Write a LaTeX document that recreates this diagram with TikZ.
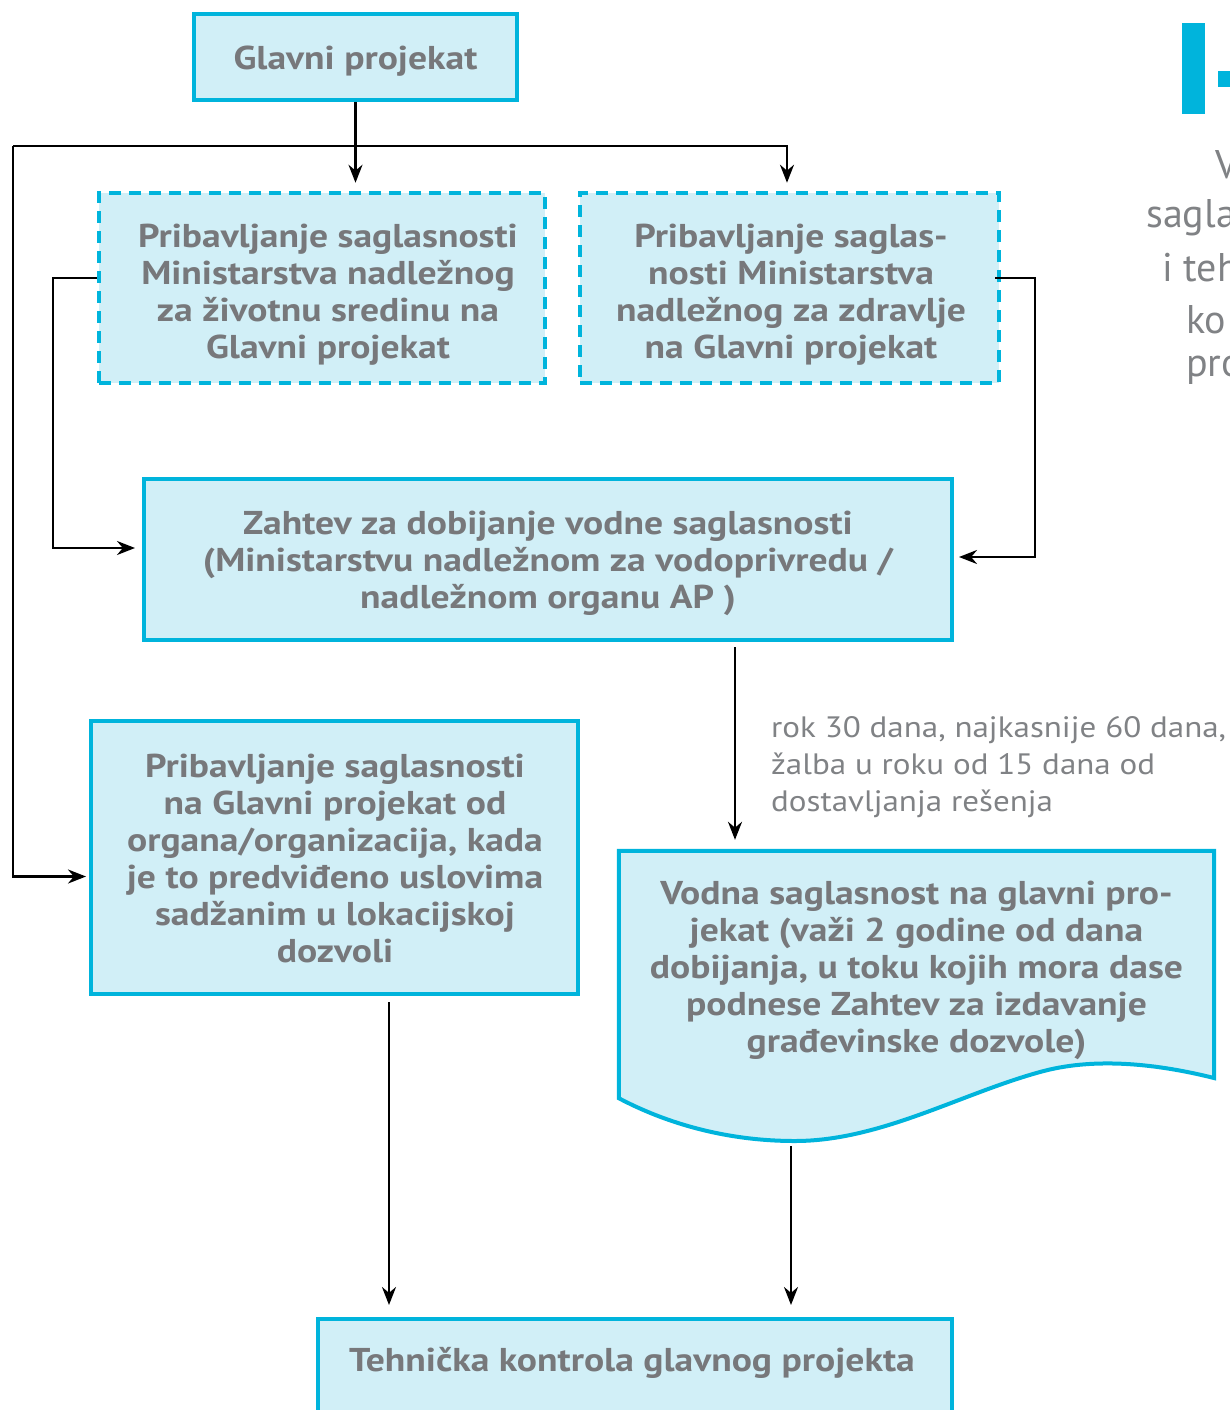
\documentclass[tikz,border=0pt]{standalone}
\usepackage{fontspec}
\setmainfont{PT Sans}
\newfontfamily\wideface{PT Sans}[FakeStretch=1.14]
\newfontfamily\labelface{PT Sans}[FakeStretch=1.12]
\usetikzlibrary{arrows.meta,calc}
\definecolor{edgecyan}{HTML}{00B4DC}
\definecolor{fillcyan}{HTML}{D1EFF7}
\definecolor{inkgray}{HTML}{77787B}
\definecolor{softgray}{HTML}{808285}

\begin{document}
\begin{tikzpicture}[x=1pt,y=-1pt,
  box/.style={draw=edgecyan, fill=fillcyan, line width=4pt, inner sep=0pt},
  dbox/.style={box, dash pattern=on 12pt off 8pt, line width=4.5pt},
  txt/.style={text=inkgray, font=\wideface\fontsize{33}{37}\selectfont\bfseries, align=center, inner sep=0pt},
  lbl/.style={text=softgray, font=\labelface\fontsize{29.5}{37}\selectfont, align=left, inner sep=0pt},
  side/.style={text=softgray, font=\fontsize{40}{50}\selectfont, inner sep=0pt, anchor=west},
  conn/.style={line width=2.4pt, -{Stealth[length=18pt,width=14pt]}}]

\useasboundingbox (0,0) rectangle (1230,1410);
\clip (0,0) rectangle (1230,1410);

% heading fragment at the right edge
\fill[edgecyan] (1182,23) rectangle (1205,114);
\fill[edgecyan] (1218,71) rectangle (1240,87);
\node[side] (s1) at (1215,165) {V};
\node[side] (s2) at (1146,218) {sagla};
\node[side] (s3) at (1162,268) {i teh};
\node[side] (s4) at (1186,320) {ko};
\node[side] (s5) at (1186,370) {pro};

% boxes
\node[box, minimum width=323, minimum height=86] (g) at (355.5,57) {};
\node[txt] (gt) at (355.5,61) {Glavni projekat};
\node[dbox, minimum width=446, minimum height=190] (d1) at (322,288) {};
\node[txt] (d1t) at (328,295)
  {Pribavljanje saglasnosti\\Ministarstva nadležnog\\za životnu sredinu na\\Glavni projekat};
\node[dbox, minimum width=419, minimum height=190] (d2) at (789.5,288) {};
\node[txt] (d2t) at (791,295)
  {Pribavljanje saglas-\\nosti Ministarstva\\nadležnog za zdravlje\\na Glavni projekat};
\node[box, minimum width=808, minimum height=161] (z) at (548,559.5) {};
\node[txt] (zt) at (548,563)
  {Zahtev za dobijanje vodne saglasnosti\\(Ministarstvu nadležnom za vodoprivredu /\\nadležnom organu AP )};
\node[box, minimum width=487, minimum height=273] (p) at (334.5,857.5) {};
\node[txt] (pt) at (335,858)
  {Pribavljanje saglasnosti\\na Glavni projekat od\\organa/organizacija, kada\\je to predviđeno uslovima\\sadžanim u lokacijskoj\\dozvoli};

% document-shaped box with wavy lower edge
\node[minimum width=595, minimum height=247, inner sep=0pt] (w) at (916.5,974.5) {};
\path[box] (w.north west) -- (w.north east) -- (1214,1078)
  .. controls (1150,1062) and (1090,1058) .. (1040,1072)
  .. controls (960,1094) and (880,1141) .. (795,1141)
  .. controls (720,1141) and (660,1120) .. (w.south west) -- cycle;
\node[txt] (wt) at (916.5,970)
  {Vodna saglasnost na glavni pro-\\jekat (važi 2 godine od dana\\dobijanja, u toku kojih mora dase\\podnese Zahtev za izdavanje\\građevinske dozvole)};

\node[box, minimum width=634, minimum height=130, anchor=north] (tk) at (635,1317) {};
\node[txt] (tkt) at (632,1363) {Tehnička kontrola glavnog projekta};

% connectors
\coordinate (lft) at (13,146);
\coordinate (rgt) at (787,146);
\draw[conn, shorten >=8pt] (g.south) -- (g.south |- d1.north);
\draw[conn, shorten >=8pt] (lft) -- (rgt) -- (rgt |- d2.north);
\draw[conn, shorten >=3pt] (lft) |- ([yshift=-19pt]p.west);
\draw[conn, shorten >=7pt] ([yshift=10pt]d1.west) -- ++(-44,0) |- ([yshift=11.5pt]z.west);
\draw[conn, shorten >=5pt, shorten <=-6pt] ([yshift=10pt]d2.east) -- ++(34,0) |- ([yshift=2.5pt]z.east);

\coordinate (zo) at ([xshift=187pt]z.south);
\draw[conn, shorten <=5pt, shorten >=11pt] (zo) -- (zo |- w.north);
\node[lbl, anchor=west] (rok) at (771,767)
  {rok 30 dana, najkasnije 60 dana,\\žalba u roku od 15 dana od\\dostavljanja rešenja};

\coordinate (po) at ([xshift=54.5pt]p.south);
\draw[conn, shorten <=6pt, shorten >=12pt] (po) -- (po |- tk.north);
\coordinate (wo) at ([xshift=-125.5pt,yshift=-48pt]w.south);
\draw[conn, shorten >=12pt] (wo) -- (wo |- tk.north);
\end{tikzpicture}
\end{document}
